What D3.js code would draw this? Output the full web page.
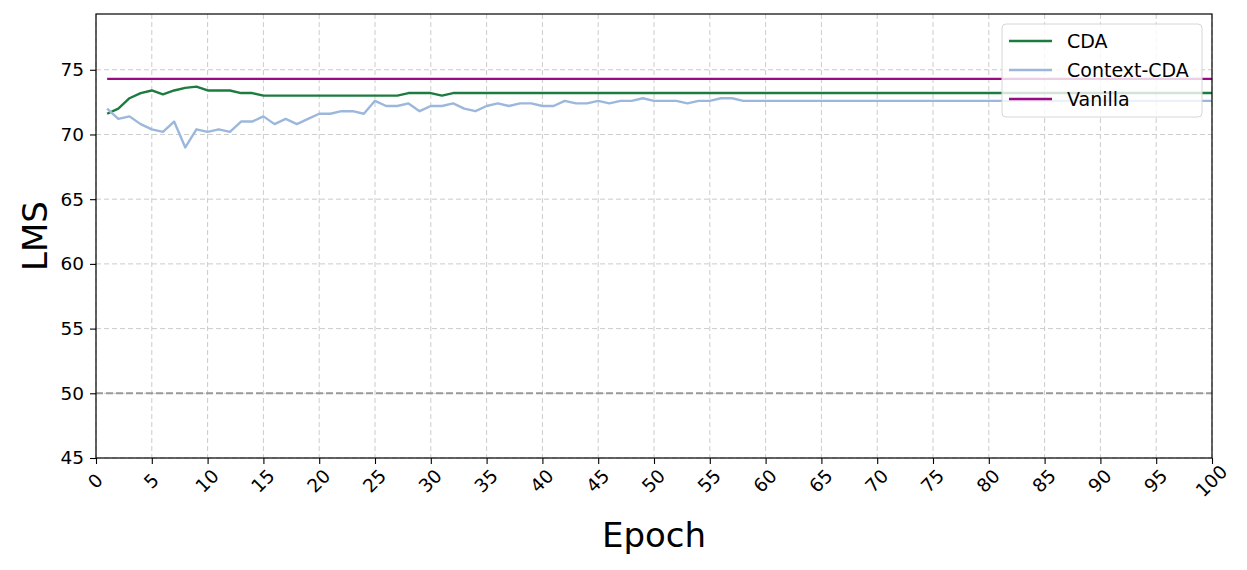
<!DOCTYPE html>
<html><head><meta charset="utf-8">
<script src="https://cdn.jsdelivr.net/npm/d3@7"></script>
<style>body{margin:0;background:#fff;} svg{display:block;font-family:"DejaVu Sans",sans-serif;} svg text{font-family:"DejaVu Sans",sans-serif;}</style>
</head><body>
<svg id="chart" width="1247" height="570"></svg>
<script>
const epochs = d3.range(1, 101);
const cdaHead = [71.6,72.0,72.8,73.2,73.4,73.1,73.4,73.6,73.7,73.4,73.4,73.4,73.2,73.2,73.0,73.0,73.0,73.0,73.0,73.0,73.0,73.0,73.0,73.0,73.0,73.0,73.0,73.2,73.2,73.2,73.0];
const cdaTailValue = 73.2;
const contextHead = [72.0,71.2,71.4,70.8,70.4,70.2,71.0,69.0,70.4,70.2,70.4,70.2,71.0,71.0,71.4,70.8,71.2,70.8,71.2,71.6,71.6,71.8,71.8,71.6,72.6,72.2,72.2,72.4,71.8,72.2,72.2,72.4,72.0,71.8,72.2,72.4,72.2,72.4,72.4,72.2,72.2,72.6,72.4,72.4,72.6,72.4,72.6,72.6,72.8,72.6,72.6,72.6,72.4,72.6,72.6,72.8,72.8];
const contextTailValue = 72.6;
const vanillaValue = 74.3;
const chanceValue = 50;
const xTicks = d3.range(0, 101, 5);
const yTicks = [45,50,55,60,65,70,75];
const seriesNames = ["CDA","Context-CDA","Vanilla"];
const seriesColors = ["#1e7b3f","#9bb8dc","#9a0a83"];

const cda = epochs.map((e,i)=> i < cdaHead.length ? cdaHead[i] : cdaTailValue);
const context = epochs.map((e,i)=> i < contextHead.length ? contextHead[i] : contextTailValue);
const vanilla = epochs.map(()=> vanillaValue);
const series = [cda, context, vanilla];

const L=96, R=1212, T=14, B=458;
const svg = d3.select("#chart");
const x = d3.scaleLinear().domain([0,100]).range([L,R]);
const y = d3.scaleLinear().domain([45,79.31]).range([B,T]);

// grid
svg.append("g").selectAll("line").data(xTicks).join("line")
  .attr("x1",d=>x(d)).attr("x2",d=>x(d)).attr("y1",T).attr("y2",B)
  .attr("stroke","#cccccc").attr("stroke-width",1).attr("stroke-dasharray","5,3");
svg.append("g").selectAll("line").data(yTicks).join("line")
  .attr("x1",L).attr("x2",R).attr("y1",d=>y(d)).attr("y2",d=>y(d))
  .attr("stroke","#cccccc").attr("stroke-width",1).attr("stroke-dasharray","5,3");

// chance line
svg.append("line").attr("x1",L).attr("x2",R).attr("y1",y(chanceValue)).attr("y2",y(chanceValue))
  .attr("stroke","#999999").attr("stroke-width",2).attr("stroke-dasharray","7,3");

const line = d3.line().x((d,i)=>x(epochs[i])).y(d=>y(d));
series.forEach((s,k)=>{
  svg.append("path").datum(s).attr("d",line).attr("fill","none")
    .attr("stroke",seriesColors[k]).attr("stroke-width",2.4).attr("stroke-linejoin","round");
});

// axes
const xAxis = svg.append("g").attr("transform",`translate(0,${B})`)
  .call(d3.axisBottom(x).tickValues(xTicks).tickSize(6).tickSizeOuter(0).tickFormat(d3.format("d")));
xAxis.attr("font-size",null).attr("font-family",null);
xAxis.selectAll("text").style("font-size","18.5px").attr("fill","#000")
  .attr("text-anchor","middle").attr("dy",null).attr("y",null)
  .attr("transform","translate(0,24) rotate(-45)").attr("dominant-baseline","middle");
const yAxis = svg.append("g").attr("transform",`translate(${L},0)`)
  .call(d3.axisLeft(y).tickValues(yTicks).tickSize(6).tickSizeOuter(0).tickPadding(6));
yAxis.attr("font-size",null).attr("font-family",null);
yAxis.selectAll("text").style("font-size","18.5px").attr("fill","#000");
[xAxis,yAxis].forEach(a=>{a.select(".domain").remove(); a.selectAll("line").attr("stroke","#000").attr("stroke-width",1.1);});

svg.append("rect").attr("x",L).attr("y",T).attr("width",R-L).attr("height",B-T)
  .attr("fill","none").attr("stroke","#000").attr("stroke-width",1.2);

// labels
svg.append("text").attr("x",654).attr("y",547).attr("text-anchor","middle")
  .style("font-size","34px").text("Epoch");
svg.append("text").attr("transform",`translate(47,${(T+B)/2}) rotate(-90)`).attr("text-anchor","middle")
  .style("font-size","34px").text("LMS");

// legend
const lg = svg.append("g").attr("transform","translate(1002,24)");
lg.append("rect").attr("width",200).attr("height",93).attr("rx",4)
  .attr("fill","#fff").attr("fill-opacity",0.8).attr("stroke","#d6d6d6");
seriesNames.forEach((n,k)=>{
  const yy = 17 + k*29;
  lg.append("line").attr("x1",7).attr("x2",50).attr("y1",yy).attr("y2",yy)
    .attr("stroke",seriesColors[k]).attr("stroke-width",2.6);
  lg.append("text").attr("x",65).attr("y",yy).attr("dy","0.36em").style("font-size","19px").text(n);
});
</script>
</body></html>
